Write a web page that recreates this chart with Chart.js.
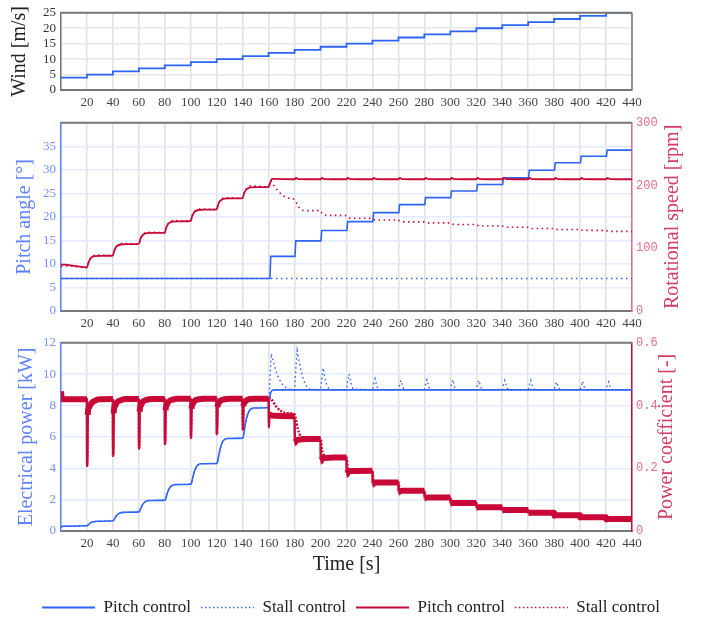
<!DOCTYPE html>
<html>
<head>
<meta charset="utf-8">
<script src="https://cdn.jsdelivr.net/npm/chart.js@4.4.1/dist/chart.umd.min.js"></script>
<style>
  body { margin: 0; background: #fff; width: 702px; height: 619px; overflow: hidden; position: relative; }
  canvas { position: absolute; left: 0; }
</style>
</head>
<body>
<canvas id="windChart" width="702" height="110" style="top:0px"></canvas>
<canvas id="angleChart" width="702" height="220" style="top:110px"></canvas>
<canvas id="powerChart" width="702" height="296" style="top:330px"></canvas>
<script>
// ---- data ----
// wind speed steps [m/s], one value per 20 s block
const windTime = [0, 20, 40, 60, 80, 100, 120, 140, 160, 180, 200, 220, 240, 260, 280, 300, 320, 340, 360, 380, 400, 420, 440];
const windSpeed = [4, 5, 6, 7, 8, 9, 10, 11, 12, 13, 14, 15, 16, 17, 18, 19, 20, 21, 22, 23, 24, 25, 25];

// pitch angle [deg] as [time, value]
const anglePitch = [[0, 6.9], [161, 6.9], [161.6, 11.6], [180.3, 11.6], [180.9, 14.9], [200.3, 14.9], [200.9, 17.1],
  [220.3, 17.1], [220.9, 19.0], [240.3, 19.0], [240.9, 20.9], [260.3, 20.9], [260.9, 22.6], [280.3, 22.6],
  [280.9, 24.1], [300.3, 24.1], [300.9, 25.5], [320.3, 25.5], [320.9, 26.9], [340.3, 26.9], [340.9, 28.3],
  [360.3, 28.3], [360.9, 29.9], [380.3, 29.9], [380.9, 31.5], [400.3, 31.5], [400.9, 32.9], [420.3, 32.9],
  [420.9, 34.2], [440, 34.2]];
const angleStall = [[0, 6.9], [440, 6.9]];

// rotational speed [rpm]
const speedPitch = [[0, 74], [3, 74], [10, 72], [20, 69.5], [21, 76], [22, 81], [23.5, 85.5], [26, 87.5], [30, 88], [40, 88.5],
  [41, 96], [42, 100.5], [43.5, 104], [46, 106], [50, 106.5], [60, 107],
  [61, 114], [62, 118.5], [63.5, 122], [66, 124], [70, 124.5], [80, 125],
  [81, 132.5], [82, 137], [83.5, 140.5], [86, 142.5], [90, 143], [100, 143.5],
  [101, 151], [102, 155.5], [103.5, 159], [106, 161], [110, 161.5], [120, 162],
  [121, 169], [122, 173.5], [123.5, 177], [126, 179], [130, 179.5], [140, 180],
  [141, 187], [142, 191.5], [143.5, 195], [146, 197], [150, 197.5], [160, 197.5],
  [161, 203], [162, 209], [163, 210.5], [180, 210], [181, 212], [183, 210.3], [200, 210], [201, 212], [203, 210.3],
  [220, 210], [221, 212], [223, 210.3], [240, 210], [241, 212], [243, 210.3], [260, 210], [261, 212], [263, 210.3],
  [280, 210], [281, 212], [283, 210.3], [300, 210], [301, 212], [303, 210.3], [320, 210], [321, 212], [323, 210.3],
  [340, 210], [341, 212], [343, 210.3], [360, 210], [361, 212], [363, 210.3], [380, 210], [381, 212], [383, 210.3],
  [400, 210], [401, 212], [403, 210.3], [420, 210], [421, 212], [423, 210.3], [440, 210]];
const speedStall = [[0, 71], [3, 72], [10, 71], [20, 69], [21, 76], [22, 81.5], [23.5, 86.5], [26, 89], [30, 89], [40, 88.5],
  [41, 96], [42, 101], [43.5, 105], [46, 107.5], [50, 107.5], [60, 107],
  [61, 114], [62, 119], [63.5, 123], [66, 125.5], [70, 125.5], [80, 125],
  [81, 132.5], [82, 137.5], [83.5, 141.5], [86, 144], [90, 144], [100, 143.5],
  [101, 151], [102, 156], [103.5, 160], [106, 162.5], [110, 162.5], [120, 162],
  [121, 169], [122, 174], [123.5, 178], [126, 180.5], [130, 180.5], [140, 180],
  [141, 187], [142, 192], [143.5, 196], [146, 199.5], [150, 199], [160, 198],
  [161, 205], [162, 207], [163, 203], [165, 197], [168, 190], [171, 184], [175, 180], [180, 177.5],
  [182, 170], [184, 163.5], [186, 160.5], [190, 160], [200, 160],
  [201, 156], [203, 153], [210, 152.5], [220, 152],
  [221, 149.5], [223, 148], [240, 147.5], [241, 146], [243, 145], [260, 145],
  [261, 143], [263, 142], [280, 142], [281, 141], [283, 140.5], [300, 140.5],
  [301, 139], [303, 138], [320, 138], [321, 136.5], [323, 135.5], [340, 135.5],
  [341, 134.5], [343, 133.5], [360, 133.5], [361, 132.5], [363, 131.5], [380, 131.5],
  [381, 130.5], [383, 130], [400, 130], [401, 129], [403, 128.5], [420, 128.5],
  [421, 127.5], [423, 127], [440, 127]];

// electrical power [kW]
const powerBefore160 = [[0, 0.22], [1, 0.3], [20, 0.33],
  [20.5, 0.35], [21.5, 0.43], [23, 0.53], [25, 0.59], [28, 0.62], [40, 0.65],
  [40.5, 0.68], [41.5, 0.82], [43, 1.0], [45, 1.13], [48, 1.19], [60, 1.22],
  [60.5, 1.26], [61.5, 1.45], [63, 1.7], [65, 1.87], [68, 1.94], [80, 1.97],
  [80.5, 2.02], [81.5, 2.3], [83, 2.65], [85, 2.88], [88, 2.96], [100, 2.98],
  [100.5, 3.05], [101.5, 3.4], [103, 3.85], [105, 4.18], [108, 4.29], [120, 4.3],
  [120.5, 4.38], [121.5, 4.8], [123, 5.35], [125, 5.76], [128, 5.9], [140, 5.92],
  [140.5, 6.02], [141.5, 6.55], [143, 7.2], [145, 7.65], [148, 7.84], [160, 7.87]];
const powerPitchAfter = [[160.5, 8.2], [161.5, 8.8], [163, 8.97], [165, 9.0], [440, 9.0]];
const powerStallAfter = [[160.3, 8.3], [161, 9.6], [162, 11.3], [164, 10.7], [166, 10.1], [168, 9.7], [171, 9.3], [175, 9.05], [180, 9.0],
  [181, 10.4], [182, 11.5], [184, 10.6], [186, 9.9], [188, 9.4], [191, 9.05], [200, 9.0],
  [201, 9.8], [202, 10.4], [203.5, 9.7], [205, 9.25], [207, 9.0], [220, 9.0],
  [221, 9.6], [222, 10.0], [223.5, 9.4], [225, 9.05], [240, 9.0],
  [241, 9.4], [242, 9.7], [243.5, 9.2], [245, 9.0], [260, 9.0],
  [261, 9.35], [262, 9.6], [263.5, 9.15], [265, 9.0], [280, 9.0],
  [281, 9.4], [282, 9.65], [283.5, 9.15], [285, 9.0], [300, 9.0],
  [301, 9.4], [302, 9.65], [303.5, 9.15], [305, 9.0], [320, 9.0],
  [321, 9.35], [322, 9.6], [323.5, 9.15], [325, 9.0], [340, 9.0],
  [341, 9.35], [342, 9.6], [343.5, 9.15], [345, 9.0], [360, 9.0],
  [361, 9.35], [362, 9.6], [363.5, 9.15], [365, 9.0], [380, 9.0],
  [381, 9.3], [382, 9.5], [383.5, 9.1], [385, 9.0], [400, 9.0],
  [401, 9.3], [402, 9.55], [403.5, 9.1], [405, 9.0], [420, 9.0],
  [421, 9.3], [422, 9.5], [423.5, 9.1], [425, 9.0], [440, 9.0]];

// power coefficient [-]
const cpBefore160 = [[0, 0.445], [0.5, 0.425], [1.5, 0.42], [20, 0.42],
  [20.15, 0.208], [20.6, 0.37], [21.5, 0.393], [23, 0.405], [26, 0.415], [30, 0.42], [40, 0.421],
  [40.15, 0.24], [40.6, 0.375], [41.5, 0.397], [43, 0.41], [46, 0.417], [50, 0.421], [60, 0.421],
  [60.15, 0.263], [60.6, 0.38], [61.5, 0.4], [63, 0.412], [66, 0.418], [70, 0.421], [80, 0.421],
  [80.15, 0.277], [80.6, 0.385], [81.5, 0.402], [83, 0.413], [86, 0.419], [90, 0.422], [100, 0.422],
  [100.15, 0.297], [100.6, 0.39], [101.5, 0.405], [103, 0.415], [106, 0.42], [110, 0.422], [120, 0.422],
  [120.15, 0.308], [120.6, 0.395], [121.5, 0.408], [123, 0.416], [126, 0.42], [130, 0.422], [140, 0.422],
  [140.15, 0.322], [140.6, 0.398], [141.5, 0.41], [143, 0.417], [146, 0.421], [150, 0.422], [160, 0.422]];
const cpPitchAfter = [[160.15, 0.33], [160.6, 0.372], [162, 0.368], [170, 0.367], [180, 0.366],
  [180.15, 0.28], [181, 0.287], [183, 0.291], [190, 0.293], [200, 0.293],
  [200.15, 0.222], [201, 0.23], [203, 0.233], [210, 0.234], [220, 0.234],
  [220.15, 0.18], [221, 0.188], [223, 0.191], [240, 0.192],
  [240.2, 0.148], [241, 0.153], [243, 0.155], [260, 0.155],
  [260.2, 0.123], [261, 0.127], [263, 0.128], [280, 0.128],
  [280.2, 0.104], [281, 0.106], [283, 0.107], [300, 0.107],
  [300.2, 0.087], [301, 0.089], [320, 0.089], [320.2, 0.074], [321, 0.076], [340, 0.076],
  [340.2, 0.065], [341, 0.067], [360, 0.067], [360.2, 0.057], [361, 0.058], [380, 0.058],
  [380.2, 0.049], [381, 0.05], [400, 0.05], [400.2, 0.043], [401, 0.044], [420, 0.044],
  [420.2, 0.037], [421, 0.038], [440, 0.038]];
const cpStallAfter = [[160.5, 0.422], [162, 0.42], [164, 0.408], [166, 0.396], [169, 0.384], [173, 0.376], [180, 0.372],
  [181, 0.355], [182.5, 0.325], [184, 0.308], [186, 0.299], [190, 0.296], [200, 0.295],
  [201, 0.262], [202.5, 0.242], [204, 0.236], [220, 0.235],
  [221, 0.2], [222.5, 0.193], [240, 0.193], [241, 0.156], [260, 0.156], [261, 0.129], [280, 0.129],
  [281, 0.108], [300, 0.108], [301, 0.09], [320, 0.09], [321, 0.077], [340, 0.077],
  [341, 0.068], [360, 0.068], [361, 0.059], [380, 0.059], [381, 0.051], [400, 0.051],
  [401, 0.045], [420, 0.045], [421, 0.039], [440, 0.039]];

const timeTicks = { min: 0, max: 440, step: 20 };
const seriesNames = ['Pitch control', 'Stall control', 'Pitch control', 'Stall control'];

// ---- styling ----
const BLUE = 'rgb(45, 100, 245)';
const RED = 'rgb(200, 8, 55)';
const BLUE_LABEL = 'rgb(95, 130, 255)';
const BLUE_TICK = 'rgb(115, 145, 255)';
const RED_LABEL = 'rgb(210, 60, 100)';
const RED_TICK = 'rgb(225, 110, 140)';
const GRID_V = '#e0e0e0';
const GRID_H = '#e4eaff';
const FRAME = '#777';

Chart.defaults.font.family = "'Liberation Serif', 'Times New Roman', serif";
Chart.defaults.animation = false;

function pts(pairs) {
  return pairs.map(function (p) { return { x: p[0], y: p[1] }; });
}

// the Cp trace is a noisy band; draw its steep drops thinner than the band
function bandWidth(ctx) {
  const dx = ctx.p1.parsed.x - ctx.p0.parsed.x;
  const dy = Math.abs(ctx.p1.parsed.y - ctx.p0.parsed.y);
  return dy / dx > 0.05 ? 2.5 : 6;
}

function timeAxis(axisHeight, withTitle) {
  return {
    type: 'linear',
    min: timeTicks.min,
    max: timeTicks.max,
    grid: { color: GRID_V, lineWidth: 1.5, drawTicks: false },
    border: { color: FRAME, width: 2 },
    ticks: {
      stepSize: timeTicks.step, padding: 5, color: '#444', autoSkip: false, maxRotation: 0,
      font: { size: 13 },
      callback: function (v) { return v === 0 ? '' : v; }
    },
    title: withTitle
      ? { display: true, text: 'Time [s]', color: '#222', font: { size: 20 }, padding: { top: 0, bottom: 12 } }
      : { display: false },
    afterFit: function (s) { s.height = axisHeight; }
  };
}

// top border, optional right border and a right-hand title read bottom to top
const panelExtras = {
  id: 'panelExtras',
  afterDraw: function (chart, args, opts) {
    const ctx = chart.ctx;
    const a = chart.chartArea;
    ctx.save();
    ctx.strokeStyle = FRAME;
    ctx.lineWidth = 2;
    ctx.beginPath();
    ctx.moveTo(a.left, a.top);
    ctx.lineTo(a.right, a.top);
    ctx.stroke();
    if (opts.rightBorder) {
      ctx.lineWidth = 1.5;
      ctx.beginPath();
      ctx.moveTo(a.right, a.top);
      ctx.lineTo(a.right, a.bottom);
      ctx.stroke();
    }
    if (opts.rightTitle) {
      ctx.translate(opts.rightTitle.x, (a.top + a.bottom) / 2);
      ctx.rotate(-Math.PI / 2);
      ctx.fillStyle = opts.rightTitle.color;
      ctx.font = "20px 'Liberation Serif', serif";
      ctx.textAlign = 'center';
      ctx.textBaseline = 'middle';
      ctx.fillText(opts.rightTitle.text, 0, 0);
    }
    ctx.restore();
  }
};

// ---- panel 1: wind ----
new Chart(document.getElementById('windChart'), {
  type: 'line',
  data: {
    labels: windTime,
    datasets: [{
      data: windTime.map(function (t, i) { return { x: t, y: windSpeed[i] }; }),
      borderColor: BLUE, borderWidth: 1.8, pointRadius: 0, stepped: true
    }]
  },
  options: {
    responsive: false, devicePixelRatio: 1,
    layout: { padding: { top: 11, right: 70, left: 0, bottom: 0 } },
    plugins: { legend: { display: false }, tooltip: { enabled: false }, panelExtras: { rightBorder: true } },
    scales: {
      x: timeAxis(20, false),
      y: {
        min: 0, max: 25,
        grid: { color: '#e6e6e6', lineWidth: 1.5, drawTicks: false },
        border: { color: FRAME, width: 1.5 },
        ticks: { stepSize: 5, padding: 5, color: '#333', autoSkip: false, font: { size: 13 } },
        title: { display: true, text: 'Wind [m/s]', color: '#222', font: { size: 20 }, padding: { top: 8, bottom: 0 } },
        afterFit: function (s) { s.width = 61; }
      }
    }
  },
  plugins: [panelExtras]
});

// ---- panel 2: pitch angle / rotational speed ----
new Chart(document.getElementById('angleChart'), {
  type: 'line',
  data: {
    datasets: [
      { data: pts(anglePitch), yAxisID: 'y', borderColor: BLUE, borderWidth: 1.6, pointRadius: 0, order: 2 },
      { data: pts(angleStall), yAxisID: 'y', borderColor: BLUE, borderWidth: 1.4, borderDash: [1.5, 3.5], pointRadius: 0, order: 2 },
      { data: pts(speedPitch), yAxisID: 'y1', borderColor: RED, borderWidth: 1.8, pointRadius: 0, cubicInterpolationMode: 'monotone', order: 1 },
      { data: pts(speedStall), yAxisID: 'y1', borderColor: RED, borderWidth: 1.6, borderDash: [1.5, 3.5], pointRadius: 0, cubicInterpolationMode: 'monotone', order: 1 }
    ]
  },
  options: {
    responsive: false, devicePixelRatio: 1,
    layout: { padding: { top: 11, right: 0, left: 0, bottom: 0 } },
    plugins: {
      legend: { display: false }, tooltip: { enabled: false },
      panelExtras: { rightTitle: { text: 'Rotational speed [rpm]', x: 673, color: RED_LABEL } }
    },
    scales: {
      x: timeAxis(19, false),
      y: {
        position: 'left', min: 0, max: 40,
        grid: { color: GRID_H, lineWidth: 1.5, drawTicks: false },
        border: { color: BLUE_LABEL, width: 1.5 },
        ticks: { stepSize: 5, padding: 5, color: BLUE_TICK, autoSkip: false, font: { size: 13 },
          callback: function (v) { return v === 40 ? '' : v; } },
        title: { display: true, text: 'Pitch angle [°]', color: BLUE_LABEL, font: { size: 20 }, padding: { top: 13, bottom: 0 } },
        afterFit: function (s) { s.width = 61; }
      },
      y1: {
        position: 'right', min: 0, max: 300,
        grid: { drawOnChartArea: false, drawTicks: false },
        border: { color: RED_TICK, width: 1.5 },
        ticks: { stepSize: 100, padding: 4, color: RED_TICK, autoSkip: false, font: { family: "'Liberation Mono', monospace", size: 12 } },
        afterFit: function (s) { s.width = 70; }
      }
    }
  },
  plugins: [panelExtras]
});

// ---- panel 3: electrical power / power coefficient ----
new Chart(document.getElementById('powerChart'), {
  type: 'line',
  data: {
    datasets: [
      { label: seriesNames[0], data: pts(powerBefore160.concat(powerPitchAfter)), yAxisID: 'y', borderColor: BLUE, borderWidth: 1.6,
        pointRadius: 0, cubicInterpolationMode: 'monotone', order: 2 },
      { label: seriesNames[1], data: pts(powerBefore160.concat(powerStallAfter)), yAxisID: 'y', borderColor: BLUE, borderWidth: 1.4,
        borderDash: [1.5, 3], pointRadius: 0, order: 2 },
      { label: seriesNames[2], data: pts(cpBefore160.concat(cpPitchAfter)), yAxisID: 'y1', borderColor: RED, borderWidth: 6,
        segment: { borderWidth: bandWidth },
        pointRadius: 0, cubicInterpolationMode: 'monotone', order: 1 },
      { label: seriesNames[3], data: pts(cpBefore160.concat(cpStallAfter)), yAxisID: 'y1', borderColor: RED, borderWidth: 2.5,
        borderDash: [2, 1.5], pointRadius: 0, cubicInterpolationMode: 'monotone', order: 1 }
    ]
  },
  options: {
    responsive: false, devicePixelRatio: 1,
    layout: { padding: { top: 12, right: 0, left: 0, bottom: 0 } },
    plugins: {
      tooltip: { enabled: false },
      panelExtras: { rightTitle: { text: 'Power coefficient [-]', x: 667, color: RED_LABEL } },
      legend: {
        position: 'bottom',
        labels: {
          usePointStyle: true, pointStyle: 'line', pointStyleWidth: 53, padding: 10,
          color: '#222', font: { size: 17 },
          sort: function (a, b) { return a.datasetIndex - b.datasetIndex; },
          generateLabels: function (chart) {
            return Chart.defaults.plugins.legend.labels.generateLabels(chart).map(function (item) {
              const ds = chart.data.datasets[item.datasetIndex];
              item.lineWidth = ds.borderDash ? 1.5 : 2;
              item.lineDash = ds.borderDash ? [1.5, 2.5] : [];
              return item;
            });
          }
        }
      }
    },
    scales: {
      x: timeAxis(58, true),
      y: {
        position: 'left', min: 0, max: 12,
        grid: { color: GRID_H, lineWidth: 1.5, drawTicks: false },
        border: { color: BLUE_LABEL, width: 1.5 },
        ticks: { stepSize: 2, padding: 5, color: BLUE_TICK, autoSkip: false, font: { size: 13 } },
        title: { display: true, text: 'Electrical power [kW]', color: BLUE_LABEL, font: { size: 20 }, padding: { top: 15, bottom: 0 } },
        afterFit: function (s) { s.width = 61; }
      },
      y1: {
        position: 'right', min: 0, max: 0.6,
        grid: { drawOnChartArea: false, drawTicks: false },
        border: { color: RED, width: 1.5 },
        ticks: { stepSize: 0.2, padding: 4, color: RED_TICK, autoSkip: false, font: { family: "'Liberation Mono', monospace", size: 12 },
          callback: function (v) { return v === 0 ? '0' : v.toFixed(1); } },
        afterFit: function (s) { s.width = 70; }
      }
    }
  },
  plugins: [panelExtras]
});
</script>
</body>
</html>
